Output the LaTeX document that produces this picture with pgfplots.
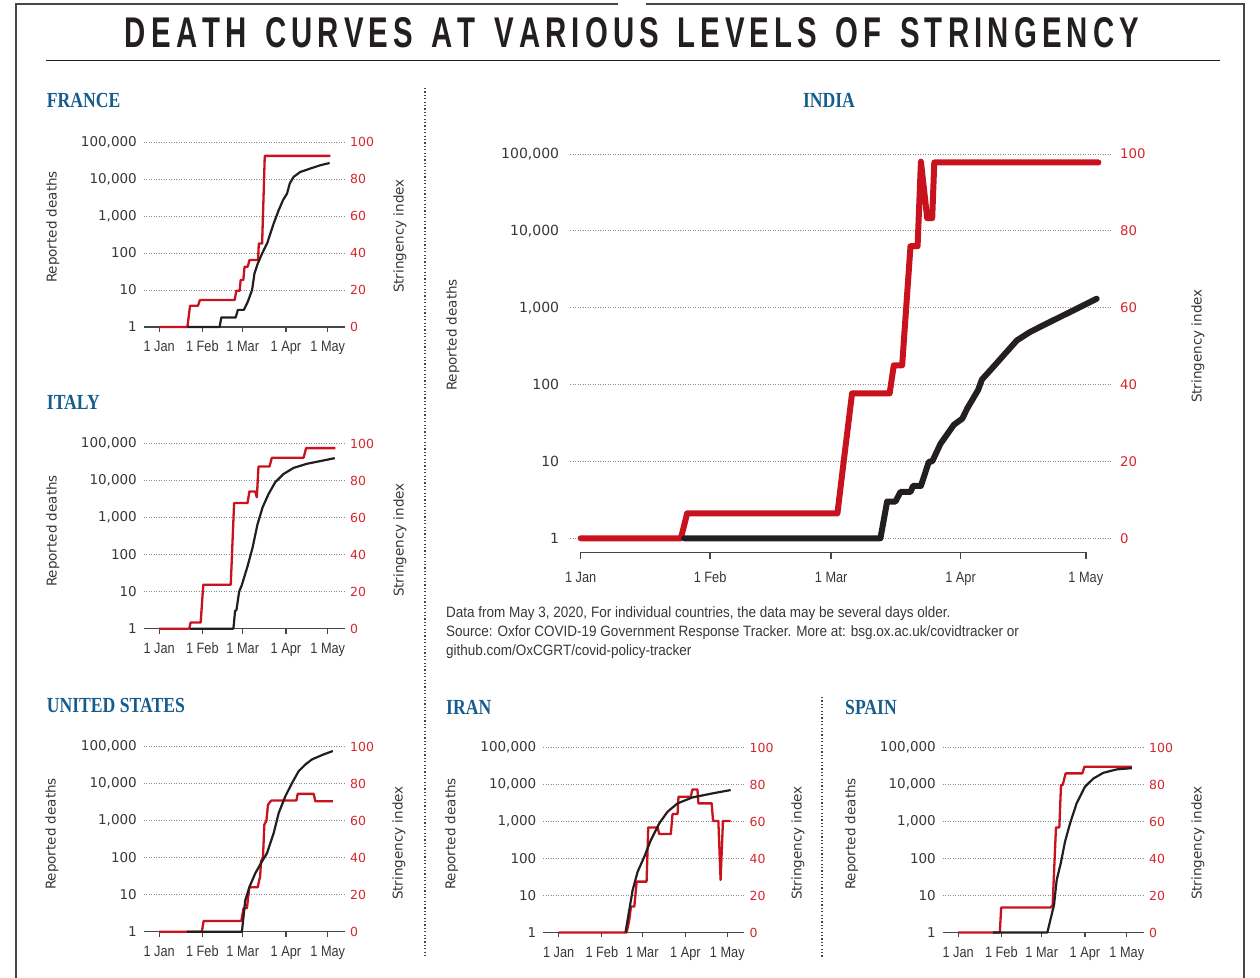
\documentclass[border=0pt]{standalone}
\usepackage{fontspec}
\usepackage{graphicx}
\usepackage{pgfplots}
\pgfplotsset{compat=1.18}
\usepackage{pgfplotstable}

\setmainfont{DejaVu Sans}
\newfontfamily\numfont{DejaVu Sans}
\newfontfamily\narrowfont{Liberation Sans}[FakeStretch=0.85]
\newfontfamily\notefont{Liberation Sans}[FakeStretch=0.9]
\newfontfamily\ptitlefont{Liberation Serif}[FakeStretch=0.82]
\newfontfamily\bigfont{Liberation Sans}

\definecolor{redline}{RGB}{200,18,30}
\definecolor{redtext}{RGB}{212,40,46}
\definecolor{blkline}{RGB}{35,31,32}
\definecolor{txt}{RGB}{55,55,55}
\definecolor{gridc}{RGB}{140,140,140}
\definecolor{axc}{RGB}{70,70,70}
\definecolor{ptblue}{RGB}{22,93,142}

\makeatletter
\def\spaced#1{\spaced@#1\@nil}
\def\spaced@#1{\ifx#1\@nil\unskip\else#1\hskip0.175em\relax\expandafter\spaced@\fi}
\makeatother

% ---------------- data ----------------
\pgfplotstableread{
d s
0 0
20.3 0
22.2 11.5
27.9 11.5
29.3 14.6
54.2 14.6
55.4 19.6
57.8 19.6
58.5 25.4
60.4 25.4
61.3 32.6
63.6 32.6
64.8 36.2
71 36.2
71.5 45.1
73.9 45.1
75.8 92.5
122.8 92.5
}\frRed
\pgfplotstableread{
d v
20.3 1
43.4 1
44.6 1.8
54.9 1.8
56.5 2.9
60.8 2.9
63.6 4.8
66.7 10
68.4 28
70.8 52
73.9 97
77.5 182
82.2 630
85.8 1440
88.9 2690
91.8 4050
93.7 7550
96.5 11400
101.3 15500
108.4 19100
115.6 23500
122.3 27000
}\frBlk

\pgfplotstableread{
d s
0 0
21.6 0
22.6 3.3
29.8 3.3
31.7 23.8
51.4 23.8
53.8 67.9
63.4 67.9
64.8 74.2
68.9 74.2
70.1 71
71.3 87.7
79.2 87.7
80.9 92.4
103.7 92.4
105.4 97.6
126.5 97.6
}\itRed
\pgfplotstableread{
d v
22 1
53.3 1
54.5 3
55.5 3.2
57.4 10
59.3 15
63.4 48
67 153
70.6 665
74.2 1890
78.5 4350
83.3 9100
89.3 15200
96.5 22200
106.1 28700
118.1 35300
126 40700
}\itBlk

\pgfplotstableread{
d s
0 0
30.7 0
31.9 5.8
58.9 5.8
60.6 12.7
63 12.7
64.7 24
70.7 24
72.5 30
73.1 38
74.5 40
75.5 57.9
77 60
78.1 68.7
80.5 70.9
98.5 70.9
99.4 74.5
110.9 74.5
112.1 70.5
124.6 70.5
}\usRed
\pgfplotstableread{
d v
20 1
59.4 1
61.8 7
64.9 16.6
69 38
73 70
77.4 133
82.2 464
85.8 1620
90.6 4600
95.4 10500
100.1 21800
104.9 33000
109.7 45400
118.1 62000
124.6 76400
}\usBlk

\pgfplotstableread{
d s
0 0
48.8 0
50.7 6.8
51.9 14
54.3 14
56 27.5
63.1 27.5
64.3 56.8
71 56.8
72.2 53.2
80.5 53.2
81.7 64
85.3 64
86 73.4
94.8 73.4
96 77.3
99.6 77.3
100.3 69.8
109.8 69.8
110.8 60.3
114.6 60.3
116.2 28.4
117.9 60.3
123.4 60.3
}\irRed
\pgfplotstableread{
d v
48 1
49.5 2.2
53.1 14
56.7 44
61.5 112
66.2 316
72.2 890
78.1 1830
85.3 3090
96 4470
110.3 5740
123.4 7080
}\irBlk

\pgfplotstableread{
d s
0 0
29.9 0
30.9 13.5
66.4 13.5
67.8 14.9
70.2 56.8
72.6 56.8
73.8 79.7
75 79.7
77.1 86
89.1 86
90.6 89.6
124.6 89.6
}\esRed
\pgfplotstableread{
d v
25 1
64 1
68.8 5.6
70.7 26
73.6 74
76.7 286
80.3 890
85 3090
91 8700
97 14500
104.2 20700
113.8 25600
124.6 27700
}\esBlk

\pgfplotstableread{
d s
0 0
24 0
25.5 6.5
61.5 6.5
63 20
65 37.7
74 37.7
75 45
77 45
79 76
80.7 76
81.5 98
83 83.3
84.2 83.3
84.7 97.8
124 97.8
}\inRed
\pgfplotstableread{
d v
24.8 1
71.8 1
73.4 3
75.4 3
76.6 4
79 4
79.6 4.8
81.5 4.8
83.4 9.9
84.2 10
86.2 17
89.4 30
91.4 36
92.6 49
95.2 85
96.1 116
98.1 153
101.3 240
104.5 376
107.6 482
111.6 620
115.6 795
119.6 1018
123.6 1309
}\inBlk

% ---------------- styles ----------------
\pgfplotsset{
  myCommon/.style={scale only axis, clip=false, anchor=south west,
    axis line style={draw=none}, tick style={draw=none}, major tick length=0pt},
  mySmall/.style={myCommon, width=201bp, height=185bp, xmin=-11.2, xmax=133},
  myLeftTicks/.style={
    ytick={1,10,100,1000,10000,100000},
    yticklabels={1,10,100,{1,000},{10,000},{100,000}},
    ytick pos=left, yminorticks=false, xminorticks=false,
    ymajorgrids, major grid style={gridc, line width=0.7bp, dash pattern=on 0.8bp off 1.7bp},
    xtick={0,31,60,91,121},
    xticklabels={1 Jan,1 Feb,1 Mar,1 Apr,1 May},
    xtick pos=left},
  mySLeft/.style={myLeftTicks,
    yticklabel style={anchor=east, inner sep=0pt, xshift=-6.5bp,
      font=\numfont\fontsize{13.5bp}{14bp}\selectfont, text=txt},
    xticklabel style={anchor=base, inner sep=0pt, yshift=-25bp,
      font=\narrowfont\fontsize{15bp}{15bp}\selectfont, text=txt}},
  myRightTicks/.style={ytick={0,20,40,60,80,100},
    yticklabels={0,20,40,60,80,100}, ytick pos=right, xtick=\empty},
  mySRight/.style={myRightTicks,
    yticklabel style={anchor=west, inner sep=0pt, xshift=5.5bp,
      font=\numfont\fontsize{12.5bp}{13bp}\selectfont, text=redtext}},
}

\newcommand{\smallpanel}[4]{%
\begin{axis}[mySmall, at={(#1,#2)}, ymode=log, ymin=1, ymax=100000, mySLeft]
  \draw[axc, line width=1.3bp] (rel axis cs:0,0) -- (rel axis cs:1,0);
  \pgfplotsinvokeforeach{0,31,60,91,121}{\draw[axc, line width=1.2bp] (axis cs:##1,1) -- ([yshift=-5bp]axis cs:##1,1);}
\end{axis}
\begin{axis}[mySmall, at={(#1,#2)}, ymin=0, ymax=100, mySRight]
  \addplot[redline, line width=2.3bp, line join=round] table[x=d,y=s] {#3};
\end{axis}
\begin{axis}[mySmall, at={(#1,#2)}, ymode=log, ymin=1, ymax=100000, hide axis]
  \addplot[blkline, line width=2.2bp, line join=round] table[x=d,y=v] {#4};
\end{axis}
}

\newcommand{\ylab}[3]{\node[rotate=90, inner sep=0pt, text=txt,
  font=\numfont\fontsize{13.5bp}{14bp}\selectfont] at (#1,#2) {#3};}
\newcommand{\paneltitle}[3]{\node[anchor=west, inner sep=0pt, text=ptblue,
  font=\ptitlefont\bfseries\fontsize{21.5bp}{22bp}\selectfont] at (#1,#2) {#3};}

\begin{document}
\begin{tikzpicture}[x=1bp,y=1bp]
\path[use as bounding box] (0,0) rectangle (1260,978);

% frame
\draw[axc, line width=2bp] (16,0) -- (16,974) -- (618,974);
\draw[axc, line width=2bp] (646,974) -- (1244,974) -- (1244,0);
\draw[blkline, line width=1.6bp] (46,917.3) -- (1220,917.3);
\node[inner sep=0pt, text=blkline] at (632,945.5)
  {\resizebox{1014bp}{30bp}{\bigfont\bfseries\spaced{DEATH~CURVES~AT~VARIOUS~LEVELS~OF~STRINGENCY}}};

% separators
\draw[axc, line width=1.2bp, dash pattern=on 1.2bp off 2.2bp] (425,890) -- (425,20);
\draw[axc, line width=1.2bp, dash pattern=on 1.2bp off 2.2bp] (822,281) -- (822,20);

% panel titles
\paneltitle{46.7}{878}{FRANCE}
\paneltitle{46.7}{576}{ITALY}
\paneltitle{46.7}{273}{UNITED STATES}
\paneltitle{446}{270.5}{IRAN}
\paneltitle{845}{270.5}{SPAIN}
\node[inner sep=0pt, text=ptblue, font=\ptitlefont\bfseries\fontsize{21.5bp}{22bp}\selectfont] at (829,878) {INDIA};

% small panels
\smallpanel{143.5bp}{651bp}{\frRed}{\frBlk}
\smallpanel{143.5bp}{349.3bp}{\itRed}{\itBlk}
\smallpanel{143.5bp}{46.3bp}{\usRed}{\usBlk}
\smallpanel{543bp}{45.5bp}{\irRed}{\irBlk}
\smallpanel{942.5bp}{45.5bp}{\esRed}{\esBlk}

% axis labels
\ylab{53}{751}{Reported deaths}   \ylab{400}{742}{Stringency index}
\ylab{53}{447}{Reported deaths}   \ylab{400}{438}{Stringency index}
\ylab{52}{144}{Reported deaths}   \ylab{399}{135}{Stringency index}
\ylab{451.7}{144}{Reported deaths} \ylab{798}{135}{Stringency index}
\ylab{851.7}{144}{Reported deaths} \ylab{1198}{135}{Stringency index}
\ylab{453}{643}{Reported deaths}  \ylab{1198}{632}{Stringency index}

% India
\begin{axis}[myCommon, width=541.7bp, height=398.3bp, xmin=-2.56, xmax=127.2,
  at={(570bp,425.7bp)}, ymode=log, ymin=0.657, ymax=100000, myLeftTicks,
  yticklabel style={anchor=east, inner sep=0pt, xshift=-10.7bp,
    font=\numfont\fontsize{14bp}{14bp}\selectfont, text=txt},
  xticklabel style={anchor=base, inner sep=0pt, yshift=-30bp,
    font=\narrowfont\fontsize{15bp}{15bp}\selectfont, text=txt}]
  \draw[axc, line width=1.5bp] (axis cs:0,0.657) -- (axis cs:121,0.657);
  \pgfplotsinvokeforeach{0,31,60,91,121}{\draw[axc, line width=1.4bp] (axis cs:#1,0.657) -- ([yshift=-7bp]axis cs:#1,0.657);}
\end{axis}
\begin{axis}[myCommon, width=541.7bp, height=398.3bp, xmin=-2.56, xmax=127.2,
  at={(570bp,425.7bp)}, ymin=-3.643, ymax=100, myRightTicks,
  yticklabel style={anchor=west, inner sep=0pt, xshift=8.3bp,
    font=\numfont\fontsize{13.3bp}{14bp}\selectfont, text=redtext}]
  \addplot[redline, line width=6bp, line cap=round, line join=round] table[x=d,y=s] {\inRed};
\end{axis}
\begin{axis}[myCommon, width=541.7bp, height=398.3bp, xmin=-2.56, xmax=127.2,
  at={(570bp,425.7bp)}, ymode=log, ymin=0.657, ymax=100000, hide axis]
  \addplot[blkline, line width=6bp, line cap=round, line join=round] table[x=d,y=v] {\inBlk};
\end{axis}

% note
\node[anchor=north west, inner sep=0pt, align=left, text=txt,
  font=\notefont\fontsize{15bp}{19bp}\selectfont] at (446,372)
  {Data from May 3, 2020, For individual countries, the data may be several days older.\\
   Source: Oxfor COVID-19 Government Response Tracker. More at: bsg.ox.ac.uk/covidtracker or\\
   github.com/OxCGRT/covid-policy-tracker};
\end{tikzpicture}
\end{document}
